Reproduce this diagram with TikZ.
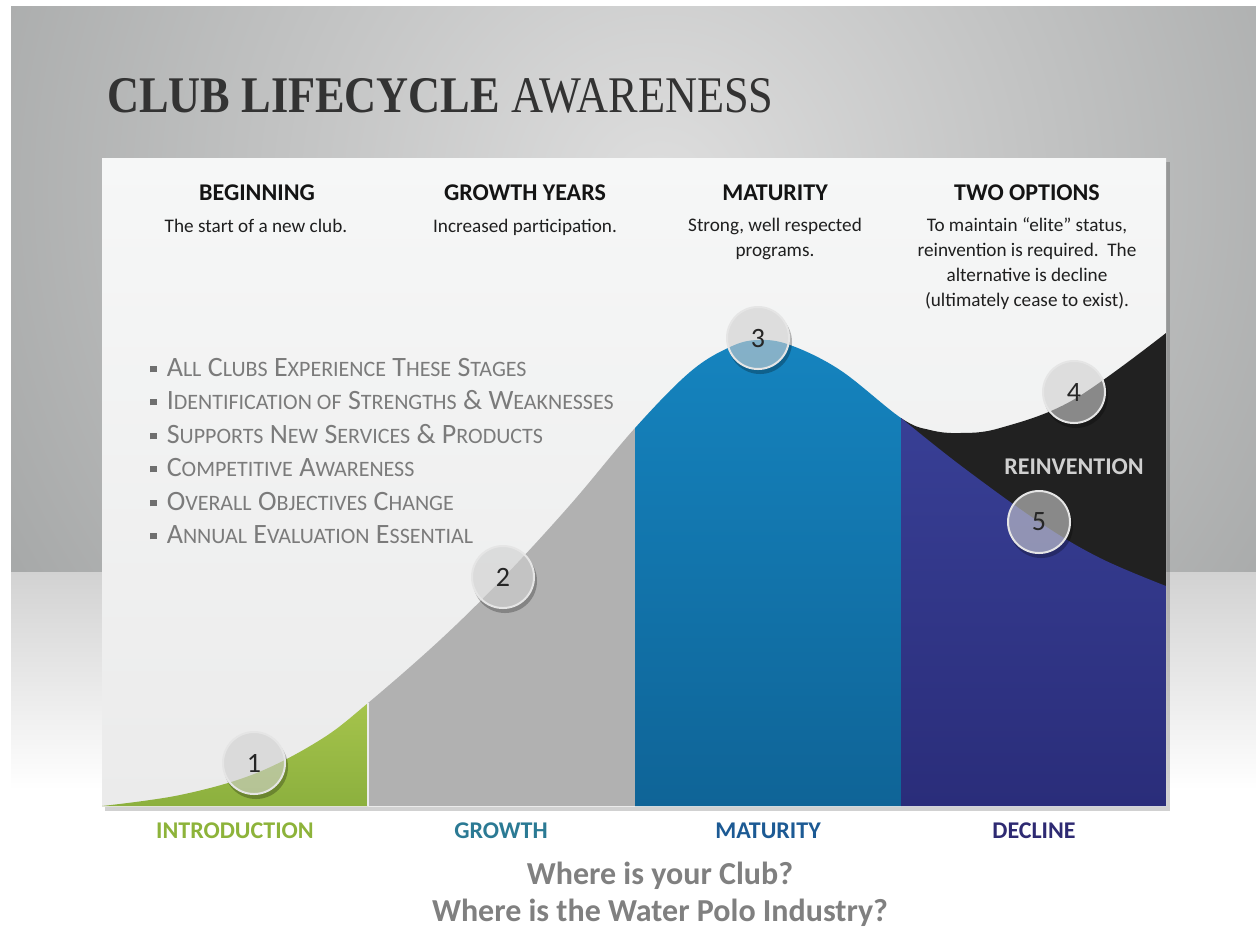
\documentclass[tikz,border=0pt]{standalone}
\usepackage{fontspec}
\setmainfont{Carlito}
\newfontfamily\titlefont{Liberation Serif}
\usetikzlibrary{calc}
\definecolor{bgdark}{HTML}{A6A8A8}
\definecolor{bglight}{HTML}{DEDEDE}
\definecolor{floortop}{HTML}{D2D2D2}
\definecolor{paneltop}{HTML}{F6F7F7}
\definecolor{panelbot}{HTML}{EBEBEB}
\definecolor{greenA}{HTML}{A6C44C}
\definecolor{greenB}{HTML}{8CB03E}
\definecolor{growgray}{HTML}{B1B1B1}
\definecolor{blueA}{HTML}{1584BF}
\definecolor{blueB}{HTML}{0F6497}
\definecolor{navyA}{HTML}{383F95}
\definecolor{navyB}{HTML}{2A2D7A}
\definecolor{blackfill}{HTML}{212121}
\definecolor{bubfill}{HTML}{CFCFCF}
\definecolor{titlec}{HTML}{333333}
\definecolor{bulc}{HTML}{7B7B7B}
\definecolor{introc}{HTML}{8DB33A}
\definecolor{growc}{HTML}{2B7A94}
\definecolor{matc}{HTML}{1C5A94}
\definecolor{decc}{HTML}{2E2A72}
\definecolor{wherec}{HTML}{808080}
\definecolor{reinc}{HTML}{D0D0D0}
\newcommand\sm[1]{{\fontsize{11}{11}\selectfont #1}}
\newcommand\mainfill{plot[smooth,tension=0.6] coordinates {(102,806) (180,795) (254,774) (320,740) (368,703) (440,640) (503,578) (570,505) (635,428) (690,372) (730,347) (758,340) (790,345) (840,370) (901,418) (930,430) (960,433) (1000,428) (1073,400) (1166,333)} -- (1166,806) -- (102,806) -- cycle}
\newcommand\lowfill{plot[smooth,tension=0.6] coordinates {(901,418) (960,465) (1039,522) (1100,558) (1166,586)} -- (1166,806) -- (901,806) -- cycle}
\newcommand\bubble[4]{%
  \begin{scope}[even odd rule]
    \clip (0,0) rectangle (1256,928) (#2,#3) circle (31);
    \fill[black,opacity=0.25] (#2+2,#3+4) circle (32);
  \end{scope}
  \node[bubblestyle] (#1) at (#2,#3) {#4};}
\tikzset{
  bubblestyle/.style={circle, minimum size=31pt, inner sep=0pt, fill=bubfill, fill opacity=0.6, text opacity=1, draw=white!80!gray, line width=1pt, text=black!85, font=\fontsize{14}{14}\selectfont},
  head/.style={anchor=base, font=\bfseries\fontsize{12}{12}\selectfont, text=black!92},
  desc/.style={anchor=base, align=center, font=\fontsize{9.6}{12.5}\selectfont, text=black!88},
  bullet/.style={anchor=base west, font=\fontsize{14}{14}\selectfont, text=bulc, inner sep=0pt},
  stage/.style={anchor=base, font=\bfseries\fontsize{12}{12}\selectfont},
  where/.style={anchor=base, font=\bfseries\fontsize{16}{16}\selectfont, text=wherec}
}
\begin{document}
\begin{tikzpicture}[x=0.5pt,y=-0.5pt]
\useasboundingbox (0,0) rectangle (1256,928);
\fill[white] (0,0) rectangle (1256,928);
% background
\begin{scope}
  \clip (11,6) rectangle (1256,572);
  \fill[bgdark] (11,6) rectangle (1256,572);
  \shade[inner color=bglight, outer color=bgdark] (660,190) circle (760);
\end{scope}
\shade[top color=floortop, bottom color=white] (11,572) rectangle (1256,790);
% panel shadow and panel
\fill[black,opacity=0.18] (105,162) rectangle (1170,811);
\shade[top color=paneltop, bottom color=panelbot] (102,158) rectangle (1166,806);
% stage fills
\begin{scope}
  \clip \mainfill;
  \shade[top color=greenA, bottom color=greenB] (102,700) rectangle (368,806);
  \fill[growgray] (368,420) rectangle (635,806);
  \shade[top color=blueA, bottom color=blueB] (635,336) rectangle (901,806);
  \fill[blackfill] (901,330) rectangle (1166,806);
\end{scope}
\begin{scope}
  \clip \lowfill;
  \shade[top color=navyA, bottom color=navyB] (901,418) rectangle (1166,806);
\end{scope}
\draw[white!85!gray, line width=0.6pt] (368,703) -- (368,806);
% title
\node[anchor=base west, inner sep=0pt, text=titlec, xscale=0.862] (title) at (107,112)
  {\titlefont\fontsize{25.7}{26}\selectfont\bfseries CLUB LIFECYCLE \mdseries AWARENESS};
% headers
\node[head] (h1) at (257,200) {BEGINNING};
\node[head] (h2) at (525,200) {GROWTH YEARS};
\node[head] (h3) at (775,200) {MATURITY};
\node[head] (h4) at (1027,200) {TWO OPTIONS};
\node[desc] (d1) at (256,232) {The start of a new club.};
\node[desc] (d2) at (525,232) {Increased participation.};
\node[desc, anchor=north] (d3) at (775,211) {Strong, well respected\\programs.};
\node[desc, anchor=north] (d4) at (1027,211) {To maintain “elite” status,\\reinvention is required.\ \ The\\alternative is decline\\(ultimately cease to exist).};
% bullets
\newcommand\bsq{{\color{bulc!90!black}\rule[1.8pt]{3.2pt}{3.2pt}}\hspace{5pt}}
\node[bullet] (b1) at (150,376) {\bsq A\sm{LL} C\sm{LUBS} E\sm{XPERIENCE} T\sm{HESE} S\sm{TAGES}};
\node[bullet] (b2) at (150,409) {\bsq I\sm{DENTIFICATION OF} S\sm{TRENGTHS} \& W\sm{EAKNESSES}};
\node[bullet] (b3) at (150,443) {\bsq S\sm{UPPORTS} N\sm{EW} S\sm{ERVICES} \& P\sm{RODUCTS}};
\node[bullet] (b4) at (150,476) {\bsq C\sm{OMPETITIVE} A\sm{WARENESS}};
\node[bullet] (b5) at (150,510) {\bsq O\sm{VERALL} O\sm{BJECTIVES} C\sm{HANGE}};
\node[bullet] (b6) at (150,543) {\bsq A\sm{NNUAL} E\sm{VALUATION} E\sm{SSENTIAL}};
% reinvention
\node[anchor=base, font=\bfseries\fontsize{12}{12}\selectfont, text=reinc] (rein) at (1074,474) {REINVENTION};
% bubbles
\bubble{c1}{254}{763}{1}
\bubble{c2}{503}{577}{2}
\bubble{c3}{758}{338}{3}
\bubble{c4}{1074}{392}{4}
\bubble{c5}{1039}{522}{5}
% stage labels
\node[stage, text=introc] (s1) at (235,838) {INTRODUCTION};
\node[stage, text=growc] (s2) at (501,838) {GROWTH};
\node[stage, text=matc] (s3) at (768,838) {MATURITY};
\node[stage, text=decc] (s4) at (1034,838) {DECLINE};
\node[where] (q1) at (660,884) {Where is your Club?};
\node[where] (q2) at (660,921) {Where is the Water Polo Industry?};
\end{tikzpicture}
\end{document}
